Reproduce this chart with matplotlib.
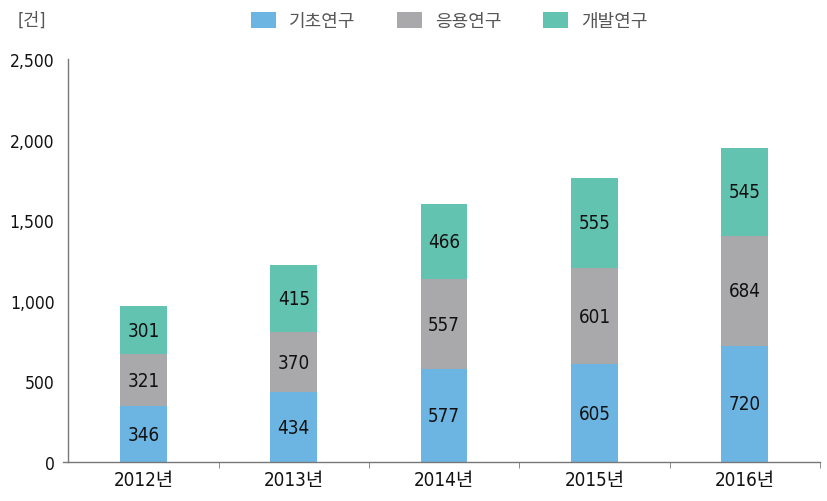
import matplotlib
matplotlib.use("Agg")
import matplotlib.pyplot as plt
import matplotlib.font_manager as fm
import numpy as np

# data
years = ["2012년", "2013년", "2014년", "2015년", "2016년"]
basic = [346, 434, 577, 605, 720]
applied = [321, 370, 557, 601, 684]
develop = [301, 415, 466, 555, 545]
series_names = ["기초연구", "응용연구", "개발연구"]
yticks = [0, 500, 1000, 1500, 2000, 2500]

colors = ["#6cb5e3", "#a9a9ab", "#62c3b1"]

# look for a narrow font for the numbers
narrow = [f for f in fm.fontManager.ttflist
          if ("Narrow" in f.name or "Condensed" in f.name
              or str(f.stretch) in ("condensed", "semi-condensed", "extra-condensed"))]
stretch = "normal"
if any(f.name == "Liberation Sans Narrow" for f in narrow):
    num_font = "Liberation Sans Narrow"
elif narrow:
    num_font = narrow[0].name
    stretch = narrow[0].stretch
else:
    num_font = "Roboto"
fam = [num_font, "Noto Sans CJK KR", "DejaVu Sans"]
plt.rcParams["font.family"] = fam
plt.rcParams["font.stretch"] = stretch

fig = plt.figure(figsize=(8.27, 5.02), dpi=100)
ax = fig.add_axes([0.0762, 0.0777, 0.9153, 0.8028])

x = np.arange(len(years))
w = 0.31
bottom = np.zeros(len(years))
for vals, name, c in zip([basic, applied, develop], series_names, colors):
    ax.bar(x, vals, w, bottom=bottom, color=c, label=name, zorder=2)
    for xi, b, v in zip(x, bottom, vals):
        ax.text(xi, b + v / 2, str(v), ha="center", va="center",
                fontsize=13.5, color="#111111", family=fam)
    bottom += np.array(vals)

ax.set_ylim(0, 2500)
ax.set_xlim(-0.535, 4.5)
ax.spines["left"].set_position(("data", -0.5))
ax.spines["top"].set_visible(False)
ax.spines["right"].set_visible(False)
for s in ["left", "bottom"]:
    ax.spines[s].set_color("#777777")
    ax.spines[s].set_linewidth(1.0)

ax.set_yticks(yticks)
ax.set_yticklabels([f"{v:,}" for v in yticks], fontsize=12.5, color="#111111",
                   fontweight="medium")
ax.tick_params(axis="y", length=0, pad=10)

ax.set_xticks(x)
ax.set_xticklabels(years, fontsize=13.5, color="#111111")
ax.tick_params(axis="x", which="major", length=0, pad=6)
ax.set_xticks(np.arange(0.5, 5, 1), minor=True)
ax.tick_params(axis="x", which="minor", length=4, direction="out", color="#777777")

fig.text(0.021, 0.958, "[건]", fontsize=12.5, color="#555555", va="center", family=fam)

leg = ax.legend(loc="center", bbox_to_anchor=(0.51, 1.094), ncol=3, frameon=False,
                fontsize=13, handlelength=1.4, handleheight=1.0,
                handletextpad=0.7, columnspacing=2.3)
for t in leg.get_texts():
    t.set_color("#555555")

fig.savefig("out.png", dpi=100)
